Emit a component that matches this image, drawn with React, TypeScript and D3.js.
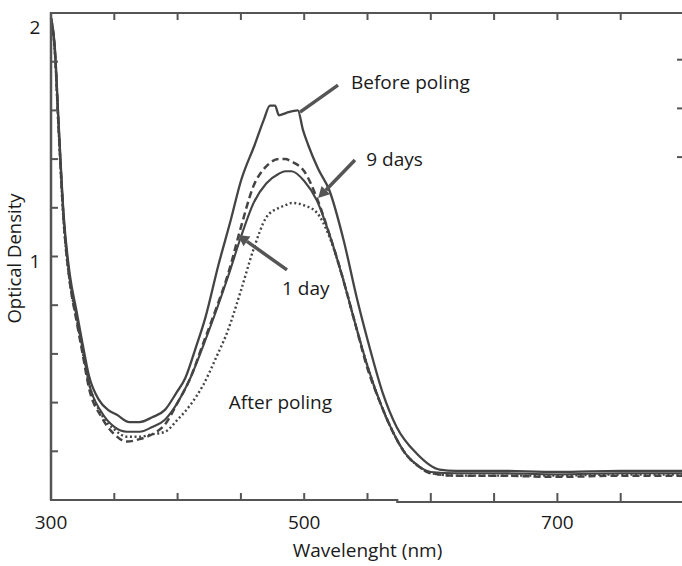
import React from "react";
import * as d3 from "d3";

// ---- data ----
const wlBefore = [300, 303, 306, 310, 315, 320, 325, 330, 338, 345, 352, 362, 370, 380, 390, 399, 406, 414, 422, 432, 442, 450, 461, 468, 473, 477, 480, 486, 495, 499, 503, 511, 520, 531, 542, 552, 562, 573, 589, 607, 620, 650, 700, 750, 800];
const odBefore = [1.98, 1.86, 1.55, 1.17, 0.92, 0.78, 0.64, 0.51, 0.41, 0.37, 0.35, 0.32, 0.32, 0.34, 0.37, 0.44, 0.5, 0.62, 0.75, 0.96, 1.15, 1.31, 1.46, 1.56, 1.62, 1.62, 1.58, 1.59, 1.6, 1.52, 1.46, 1.36, 1.27, 1.07, 0.82, 0.62, 0.44, 0.3, 0.19, 0.125, 0.12, 0.12, 0.115, 0.12, 0.12];

const wlAfter = [300, 303, 306, 310, 315, 320, 325, 330, 340, 350, 360, 370, 380, 390, 400, 410, 420, 430, 440, 450, 460, 470, 480, 485, 490, 500, 510, 520, 530, 540, 550, 560, 570, 580, 590, 600, 620, 650, 700, 750, 800];
const odDashed = [1.98, 1.85, 1.53, 1.15, 0.89, 0.74, 0.6, 0.46, 0.34, 0.27, 0.24, 0.25, 0.27, 0.31, 0.4, 0.5, 0.64, 0.78, 0.93, 1.12, 1.29, 1.37, 1.4, 1.4, 1.39, 1.35, 1.24, 1.09, 0.92, 0.73, 0.54, 0.4, 0.28, 0.19, 0.14, 0.11, 0.1, 0.1, 0.095, 0.1, 0.1];
const odSolid = [1.98, 1.85, 1.54, 1.16, 0.9, 0.76, 0.62, 0.48, 0.36, 0.3, 0.28, 0.28, 0.3, 0.33, 0.4, 0.5, 0.63, 0.77, 0.92, 1.08, 1.22, 1.3, 1.34, 1.35, 1.35, 1.31, 1.23, 1.09, 0.92, 0.73, 0.55, 0.4, 0.28, 0.19, 0.14, 0.115, 0.11, 0.11, 0.105, 0.11, 0.11];
const odDotted = [1.97, 1.84, 1.52, 1.14, 0.89, 0.75, 0.61, 0.48, 0.35, 0.29, 0.26, 0.26, 0.27, 0.28, 0.33, 0.39, 0.47, 0.58, 0.7, 0.86, 1.03, 1.16, 1.2, 1.21, 1.22, 1.21, 1.18, 1.08, 0.92, 0.73, 0.55, 0.4, 0.28, 0.19, 0.14, 0.11, 0.1, 0.1, 0.1, 0.105, 0.105];

const xTickValues = [350, 400, 450, 500, 550, 600, 650, 700, 750];
const xTickLabels = [300, 500, 700];
const yTickValues = [0.2, 0.4, 0.6, 0.8, 1.0, 1.2, 1.4, 1.6, 1.8];
const yRightTickValues = [1.4, 1.6, 1.8];
const yTickLabels = [1, 2];

// annotations in data units: [text, textX(nm), textY(OD)]
const annoTexts: [string, number, number][] = [
  ["Before poling", 537, 1.688],
  ["9 days", 549, 1.372],
  ["1 day", 482.5, 0.842],
  ["After poling", 440.5, 0.374],
];
// pointers: [fromX, fromY, toX, toY, head]
const pointers: [number, number, number, number, boolean][] = [
  [526.7, 1.704, 496.7, 1.593, false],
  [540.1, 1.396, 511.0, 1.24, true],
  [486.4, 0.945, 447.7, 1.088, true],
];

const W = 682;
const H = 566;
const left = 51, right = 684, top = 13, bottom = 500;

export default function App() {
  const x = d3.scaleLinear().domain([300, 800]).range([left, right]);
  const y = d3.scaleLinear().domain([0, 2]).range([bottom, top]);
  const line = d3
    .line<[number, number]>()
    .x((d) => x(d[0]))
    .y((d) => y(d[1]))
    .curve(d3.curveMonotoneX);

  const pts = (wl: number[], od: number[]) => wl.map((w, i) => [w, od[i]] as [number, number]);

  const ink = "#444";
  const font = "'Open Sans', 'Noto Sans', sans-serif";
  const fs = 19;
  const stepX = x(573.5);

  const arrow = (p: [number, number, number, number, boolean], i: number) => {
    const x1 = x(p[0]), y1 = y(p[1]), x2 = x(p[2]), y2 = y(p[3]);
    const ang = Math.atan2(y2 - y1, x2 - x1);
    const hl = 11, hw = 6;
    const bx = x2 - hl * Math.cos(ang), by = y2 - hl * Math.sin(ang);
    const nx = -Math.sin(ang), ny = Math.cos(ang);
    return (
      <g key={i}>
        <line x1={x1} y1={y1} x2={p[4] ? bx : x2} y2={p[4] ? by : y2} stroke="#555" strokeWidth={3.5} />
        {p[4] && (
          <polygon
            points={`${x2},${y2} ${bx + nx * hw},${by + ny * hw} ${bx - nx * hw},${by - ny * hw}`}
            fill="#555"
          />
        )}
      </g>
    );
  };

  return (
    <svg width={W} height={H} style={{ display: "block", position: "absolute", left: 0, top: 0, background: "#fff" }}>
      <rect x={0} y={0} width={W} height={H} fill="#fff" />
      {/* curves */}
      <path d={line(pts(wlAfter, odDotted)) || ""} fill="none" stroke={ink} strokeWidth={2.4} strokeDasharray="2,2.6" />
      <path d={line(pts(wlAfter, odDashed)) || ""} fill="none" stroke={ink} strokeWidth={2.5} strokeDasharray="7,4" />
      <path d={line(pts(wlAfter, odSolid)) || ""} fill="none" stroke={ink} strokeWidth={2.1} />
      <path d={line(pts(wlBefore, odBefore)) || ""} fill="none" stroke={ink} strokeWidth={2.3} />

      {/* frame */}
      <path d={`M${left},${top} H${W}`} stroke="#555" strokeWidth={2.2} fill="none" />
      <path d={`M${left},${top - 1} V${bottom}`} stroke="#555" strokeWidth={2.5} fill="none" />
      <path d={`M${left - 1},${bottom} H${stepX} V${bottom + 2} H${W}`} stroke="#555" strokeWidth={2.2} fill="none" />
      {xTickValues.map((v) => (
        <g key={"xt" + v}>
          <line x1={x(v)} x2={x(v)} y1={x(v) > stepX ? bottom + 2 : bottom} y2={bottom - 7} stroke="#555" strokeWidth={2} />
          <line x1={x(v)} x2={x(v)} y1={top} y2={top + 7} stroke="#555" strokeWidth={2} />
        </g>
      ))}
      {yTickValues.map((v) => (
        <line key={"yt" + v} x1={left} x2={left + 7} y1={y(v)} y2={y(v)} stroke="#555" strokeWidth={2} />
      ))}
      {yRightTickValues.map((v) => (
        <line key={"yr" + v} x1={right - 7} x2={right} y1={y(v) - 2} y2={y(v) - 2} stroke="#555" strokeWidth={2} />
      ))}

      {/* tick labels */}
      {xTickLabels.map((v) => (
        <text key={"xl" + v} x={x(v)} y={529} textAnchor="middle" fontFamily={font} fontSize={fs} fill="#1a1a1a">
          {v}
        </text>
      ))}
      {yTickLabels.map((v) => (
        <text key={"yl" + v} x={35} y={Math.max(y(v) + 11, top + 21)} textAnchor="middle" fontFamily={font} fontSize={fs} fill="#1a1a1a">
          {v}
        </text>
      ))}

      {/* axis titles */}
      <text x={(left + right) / 2} y={557} textAnchor="middle" fontFamily={font} fontSize={fs} fill="#1a1a1a">
        Wavelenght (nm)
      </text>
      <text transform={`translate(21,${(top + bottom) / 2 + 2}) rotate(-90)`} textAnchor="middle" fontFamily={font} fontSize={fs - 0.5} fill="#1a1a1a">
        Optical Density
      </text>

      {/* annotations */}
      {pointers.map(arrow)}
      {annoTexts.map((a) => (
        <text key={a[0]} x={x(a[1])} y={y(a[2])} fontFamily={font} fontSize={fs} fill="#1a1a1a">
          {a[0]}
        </text>
      ))}
    </svg>
  );
}
